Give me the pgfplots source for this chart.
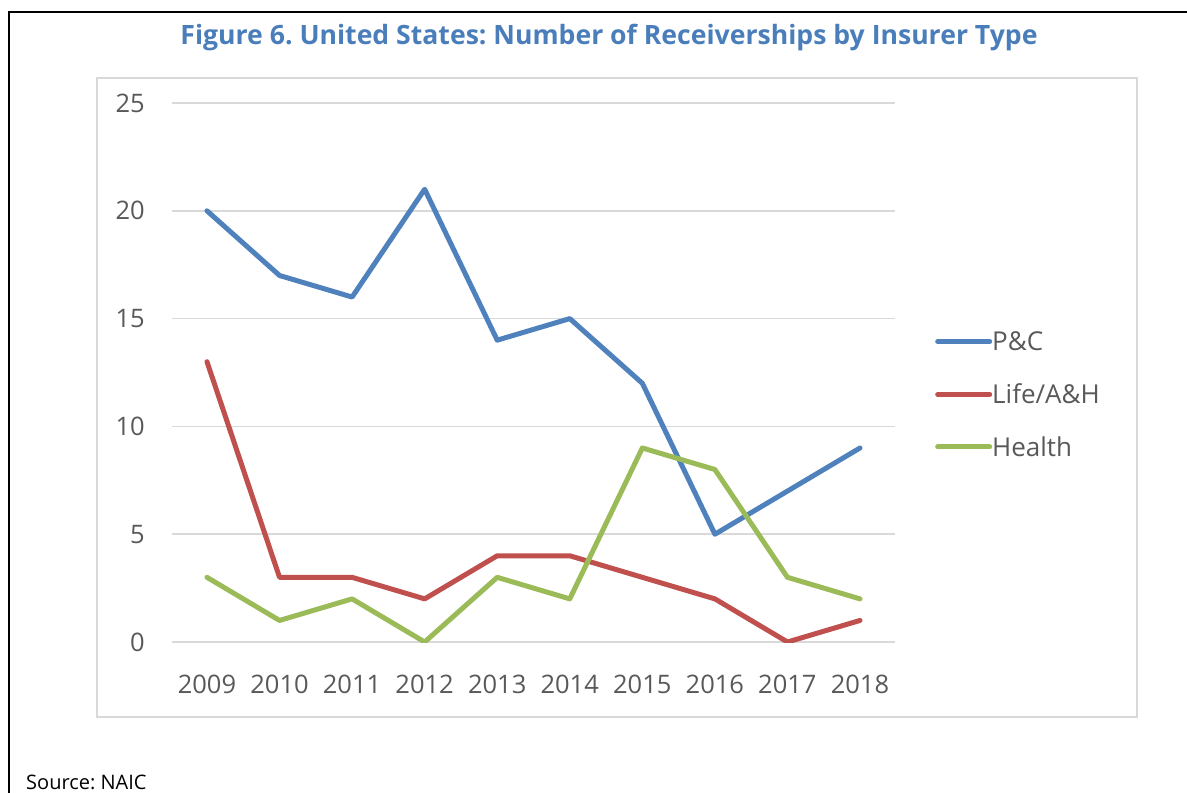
\documentclass[border=0pt]{standalone}
\usepackage{fontspec}
\setmainfont{Open Sans}
\usepackage{pgfplots}
\pgfplotsset{compat=1.18}
\definecolor{pc}{HTML}{4F81BD}
\definecolor{life}{HTML}{C0504D}
\definecolor{health}{HTML}{9BBB59}
\definecolor{titleblue}{HTML}{4A7EBB}
\definecolor{gridgray}{HTML}{D9D9D9}
\definecolor{labelgray}{HTML}{595959}
\frenchspacing
\begin{document}
\begin{tikzpicture}
\useasboundingbox (0,0) rectangle (1187bp,-793bp);
\draw[black, line width=2.5bp] (9bp,-793bp) -- (9bp,-12bp) -- (1187bp,-12bp);
\draw[gridgray, line width=1.5bp] (97bp,-78bp) rectangle (1137bp,-717bp);
\node[font=\fontsize{26.6bp}{30bp}\selectfont\bfseries, text=titleblue, anchor=base, inner sep=0pt] at (609bp,-44bp) {Figure 6. United States: Number of Receiverships by Insurer Type};
\node[font=\fontsize{20bp}{23bp}\selectfont, anchor=base west, inner sep=0pt] at (26bp,-789bp) {Source: NAIC};
\begin{axis}[
  at={(172bp,-642bp)}, anchor=south west,
  scale only axis, width=723bp, height=539bp,
  xmin=2008.518, xmax=2018.482, ymin=0, ymax=25,
  xtick={2009,...,2018}, ytick={0,5,...,25},
  axis line style={draw=none},
  major tick length=0pt,
  ymajorgrids, grid style={gridgray, line width=1.5bp},
  /pgf/number format/assume math mode=true,
  xticklabel={\pgfmathprintnumber[1000 sep={}]{\tick}},
  tick label style={font=\fontsize{25.5bp}{30bp}\selectfont, text=labelgray},
  xticklabel style={inner sep=0pt, anchor=north, yshift=-33bp},
  yticklabel style={inner sep=0pt, anchor=east, xshift=-27bp},
  legend style={draw=none, fill=none, at={(1.0553,0.4596)}, anchor=west, inner sep=0pt,
    row sep=0pt, font=\fontsize{26bp}{30bp}\selectfont, text=labelgray,
    nodes={inner sep=0pt, text height=35.65bp, text depth=17.05bp},
    /tikz/every even column/.append style={column sep=3bp}},
  legend cell align=left,
  legend image code/.code={\draw[#1, line cap=round] (2.5bp,0bp) -- (54.5bp,0bp);},
  every axis plot/.append style={line width=5bp, line join=round, line cap=round},
]
\addplot[pc] coordinates {(2009,20) (2010,17) (2011,16) (2012,21) (2013,14) (2014,15) (2015,12) (2016,5) (2017,7) (2018,9)};
\addlegendentry{P\&C}
\addplot[life] coordinates {(2009,13) (2010,3) (2011,3) (2012,2) (2013,4) (2014,4) (2015,3) (2016,2) (2017,0) (2018,1)};
\addlegendentry{Life/A\&H}
\addplot[health] coordinates {(2009,3) (2010,1) (2011,2) (2012,0) (2013,3) (2014,2) (2015,9) (2016,8) (2017,3) (2018,2)};
\addlegendentry{Health}
\end{axis}
\end{tikzpicture}
\end{document}
